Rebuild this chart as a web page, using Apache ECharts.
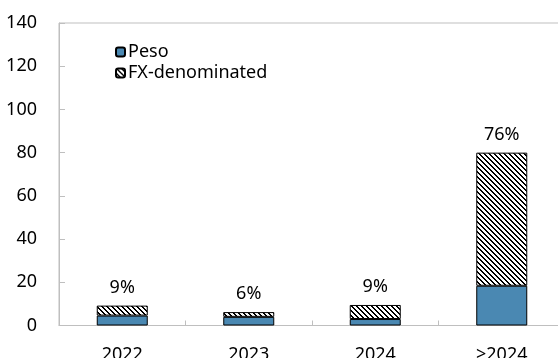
<!DOCTYPE html>
<html>
<head>
<meta charset="utf-8">
<script src="https://cdn.jsdelivr.net/npm/echarts@6/dist/echarts.min.js"></script>
<style>
  html, body { margin: 0; padding: 0; background: #fff; }
  #chart { width: 558px; height: 358px; }
</style>
</head>
<body>
<div id="chart"></div>
<script>
// Maturity buckets and debt amounts by currency
const categories = ['2022', '2023', '2024', '>2024'];
const pesoValues = [4.6, 4.0, 3.0, 18.4];
const fxValues = [4.6, 2.2, 6.5, 61.6];
const yTicks = { min: 0, max: 140, step: 20 };

const FONT = '"Noto Sans", "Open Sans", sans-serif';

// Black downward-diagonal hatch used for the FX-denominated segment
function hatchPattern() {
  const p = 5, t = 2;
  const c = document.createElement('canvas');
  c.width = p; c.height = p;
  const ctx = c.getContext('2d');
  ctx.fillStyle = '#ffffff';
  ctx.fillRect(0, 0, p, p);
  ctx.fillStyle = '#000000';
  for (let y = 0; y < p; y++) {
    for (let x = 0; x < p; x++) {
      if (((x - y) % p + p) % p < t) ctx.fillRect(x, y, 1, 1);
    }
  }
  return c;
}

const totals = categories.map((_, i) => pesoValues[i] + fxValues[i]);
const grand = totals.reduce((a, b) => a + b, 0);

const chart = echarts.init(document.getElementById('chart'), null, { renderer: 'canvas' });
chart.setOption({
  animation: false,
  backgroundColor: '#ffffff',
  textStyle: { fontFamily: FONT },
  grid: {
    left: 59, top: 23, width: 506, bottom: 32.5,
    outerBoundsMode: 'none',
    containLabel: false,
    show: true, borderColor: '#bfbfbf', borderWidth: 1
  },
  legend: {
    orient: 'vertical',
    left: 110, top: 38,
    itemWidth: 9, itemHeight: 9, itemGap: 3,
    textStyle: { fontFamily: FONT, fontSize: 18, color: '#000', padding: [0, 0, 0, -2] },
    data: ['Peso', 'FX-denominated']
  },
  xAxis: {
    type: 'category',
    data: categories,
    axisLine: { lineStyle: { color: '#bfbfbf', width: 1 } },
    axisTick: { show: true, inside: true, length: 5, lineStyle: { color: '#bfbfbf' } },
    axisLabel: { margin: 20, fontSize: 18, color: '#000', fontFamily: FONT }
  },
  yAxis: {
    type: 'value',
    min: yTicks.min, max: yTicks.max, interval: yTicks.step,
    axisLine: { show: true, lineStyle: { color: '#bfbfbf', width: 1 } },
    axisTick: { show: true, inside: true, length: 6, lineStyle: { color: '#bfbfbf' } },
    splitLine: { show: false },
    axisLabel: { margin: 22, fontSize: 18, color: '#000', fontFamily: FONT }
  },
  series: [
    {
      name: 'Peso',
      type: 'bar',
      stack: 'debt',
      barWidth: 51,
      data: pesoValues,
      itemStyle: { color: '#4a88b2', borderColor: '#000', borderWidth: 1 }
    },
    {
      name: 'FX-denominated',
      type: 'bar',
      stack: 'debt',
      barWidth: 51,
      data: fxValues,
      itemStyle: {
        color: { image: hatchPattern(), repeat: 'repeat' },
        borderColor: '#000', borderWidth: 1
      },
      label: {
        show: true,
        position: 'top',
        distance: 9,
        fontSize: 18,
        color: '#000',
        fontFamily: FONT,
        formatter: (p) => Math.round(totals[p.dataIndex] / grand * 100) + '%'
      }
    }
  ]
});
</script>
</body>
</html>
